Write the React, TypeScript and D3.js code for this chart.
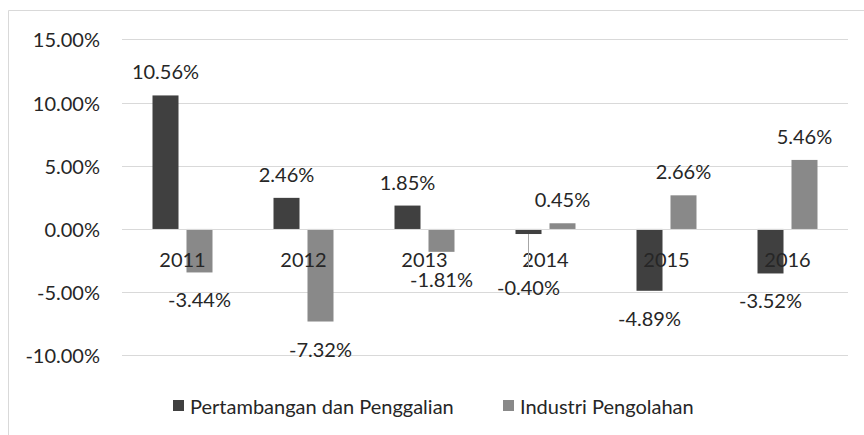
import React from "react";
import * as d3 from "d3";

const categories = ["2011", "2012", "2013", "2014", "2015", "2016"];
const seriesNames = ["Pertambangan dan Penggalian", "Industri Pengolahan"];
const pertambangan = [10.56, 2.46, 1.85, -0.4, -4.89, -3.52];
const industri = [-3.44, -7.32, -1.81, 0.45, 2.66, 5.46];
const yTicks = [-10, -5, 0, 5, 10, 15];

const W = 864;
const H = 435;
const FONT = "Lato, 'Open Sans', sans-serif";
const TEXT = "#262626";
const COLORS = ["#404040", "#898989"];
const FS = 20;

export default function App() {
  const left = 122;
  const right = 848;
  const y = d3.scaleLinear().domain([-10, 15]).range([355.4, 39.3]);
  const x0 = d3.scaleBand<string>().domain(categories).range([left, right]).padding(0);
  const cw = x0.bandwidth();
  const x1 = d3
    .scaleBand<number>()
    .domain([0, 1])
    .range([cw / 2 - 30, cw / 2 + 30])
    .paddingInner(0.235)
    .paddingOuter(0);
  const bw = x1.bandwidth();
  const series = [pertambangan, industri];
  const fmt = (v: number) => v.toFixed(2) + "%";

  // label with leader line (series 0, 2014) — placed lower to avoid axis label
  const leader = { s: 0, i: 3, dy: 53 };

  return (
    <svg width={W} height={H} style={{ position: "absolute", left: 0, top: 0 }}>
      <rect x={0} y={0} width={W} height={H} fill="#fff" />
      <line x1={8.5} y1={10.5} x2={W} y2={10.5} stroke="#d9d9d9" />
      <line x1={8.5} y1={10.5} x2={8.5} y2={H} stroke="#d9d9d9" />
      {yTicks.map((t) => (
        <g key={t}>
          {t !== 0 && (
            <line x1={left} x2={right} y1={Math.round(y(t)) + 0.5} y2={Math.round(y(t)) + 0.5} stroke="#d9d9d9" />
          )}
          <text
            x={100}
            y={y(t)}
            textAnchor="end"
            dominantBaseline="central"
            fontFamily={FONT}
            fontSize={FS}
            fill={TEXT}
          >
            {t.toFixed(2) + "%"}
          </text>
        </g>
      ))}
      {series.map((vals, s) =>
        vals.map((v, i) => {
          const bx = (x0(categories[i]) as number) + (x1(s) as number);
          const y0 = y(0);
          const yv = y(v);
          return (
            <rect
              key={`b${s}-${i}`}
              x={bx}
              y={Math.min(y0, yv)}
              width={bw}
              height={Math.abs(yv - y0)}
              fill={COLORS[s]}
            />
          );
        })
      )}
      <line x1={left} x2={right} y1={Math.round(y(0)) + 0.5} y2={Math.round(y(0)) + 0.5} stroke="#d9d9d9" />
      {categories.map((c) => (
        <text
          key={c}
          x={(x0(c) as number) + cw / 2}
          y={259}
          textAnchor="middle"
          dominantBaseline="central"
          fontFamily={FONT}
          fontSize={FS}
          fill={TEXT}
        >
          {c}
        </text>
      ))}
      {series.map((vals, s) =>
        vals.map((v, i) => {
          const cx = (x0(categories[i]) as number) + (x1(s) as number) + bw / 2;
          const isLeader = leader.s === s && leader.i === i;
          const ly = isLeader ? y(v) + leader.dy : v >= 0 ? y(v) - 24 : y(v) + 27;
          return (
            <g key={`l${s}-${i}`}>
              {isLeader && (
                <line x1={cx} x2={cx} y1={y(v)} y2={ly - 20} stroke="#a6a6a6" />
              )}
              <text
                x={cx}
                y={ly}
                textAnchor="middle"
                dominantBaseline="central"
                fontFamily={FONT}
                fontSize={FS}
                fill={TEXT}
              >
                {fmt(v)}
              </text>
            </g>
          );
        })
      )}
      {/* legend */}
      {seriesNames.map((n, s) => {
        const lx = s === 0 ? 173 : 503;
        return (
          <g key={n}>
            <rect x={lx} y={400} width={11} height={11} fill={COLORS[s]} />
            <text
              x={lx + 17}
              y={405.5}
              dominantBaseline="central"
              fontFamily={FONT}
              fontSize={FS}
              fill={TEXT}
            >
              {n}
            </text>
          </g>
        );
      })}
    </svg>
  );
}
